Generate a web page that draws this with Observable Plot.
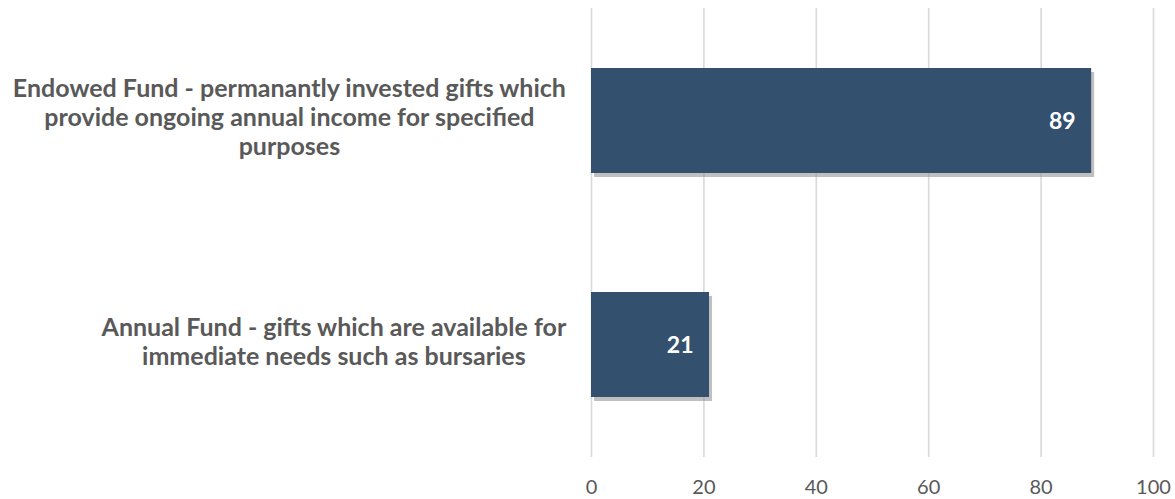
<!DOCTYPE html>
<html>
<head>
<meta charset="utf-8">
<script src="https://cdn.jsdelivr.net/npm/d3@7"></script>
<script src="https://cdn.jsdelivr.net/npm/@observablehq/plot@0.6"></script>
<style>
  html, body { margin: 0; padding: 0; background: #fff; }
  #chart { width: 1175px; height: 499px; }
</style>
</head>
<body>
<div id="chart"></div>
<script>
const categories = [
  "Endowed Fund - permanantly invested gifts which\nprovide ongoing annual income for specified\npurposes",
  "Annual Fund - gifts which are available for\nimmediate needs such as bursaries"
];
const values = [89, 21];
const xTicks = [0, 20, 40, 60, 80, 100];

const data = categories.map((c, i) => ({category: c, value: values[i]}));

const labelSize = 25;
const labelFont = `bold ${labelSize}px Lato`;
const ctx = document.createElement("canvas").getContext("2d");
ctx.font = labelFont;
const blockWidth = c => Math.max(...c.split("\n").map(l => ctx.measureText(l).width));
const gap = 25;

const chart = Plot.plot({
  width: 1175,
  height: 499,
  marginLeft: 591,
  marginRight: 22,
  marginTop: 8,
  marginBottom: 42,
  style: {fontFamily: "Lato, sans-serif", background: "#fff"},
  x: {domain: [0, 100], ticks: xTicks, grid: false},
  y: {domain: categories, paddingInner: 0.53, paddingOuter: 0.265},
  marks: [
    Plot.ruleX(xTicks, {stroke: "#d9d9d9", strokeWidth: 1.6}),
    Plot.barX(data, {x: "value", y: "category", fill: "#8c8c8c", fillOpacity: 0.55, dx: 3, dy: 4}),
    Plot.barX(data, {x: "value", y: "category", fill: "#34506f"}),
    Plot.text(data, {x: "value", y: "category", text: d => String(d.value), textAnchor: "end", dx: -16, dy: 1, fill: "#fff", fontWeight: "bold", fontSize: 23}),
    ...data.map(d => Plot.text([d], {
      y: "category", text: "category", frameAnchor: "left", textAnchor: "middle",
      dx: -(gap + blockWidth(d.category) / 2), dy: -4, lineHeight: 29 / labelSize,
      fill: "#595959", fontWeight: "bold", fontSize: labelSize
    })),
    Plot.axisX({ticks: xTicks, tickSize: 0, tickPadding: 22, fontSize: 20, color: "#595959", label: null}),
    Plot.axisY({ticks: [], label: null})
  ]
});
document.getElementById("chart").appendChild(chart);
</script>
</body>
</html>
